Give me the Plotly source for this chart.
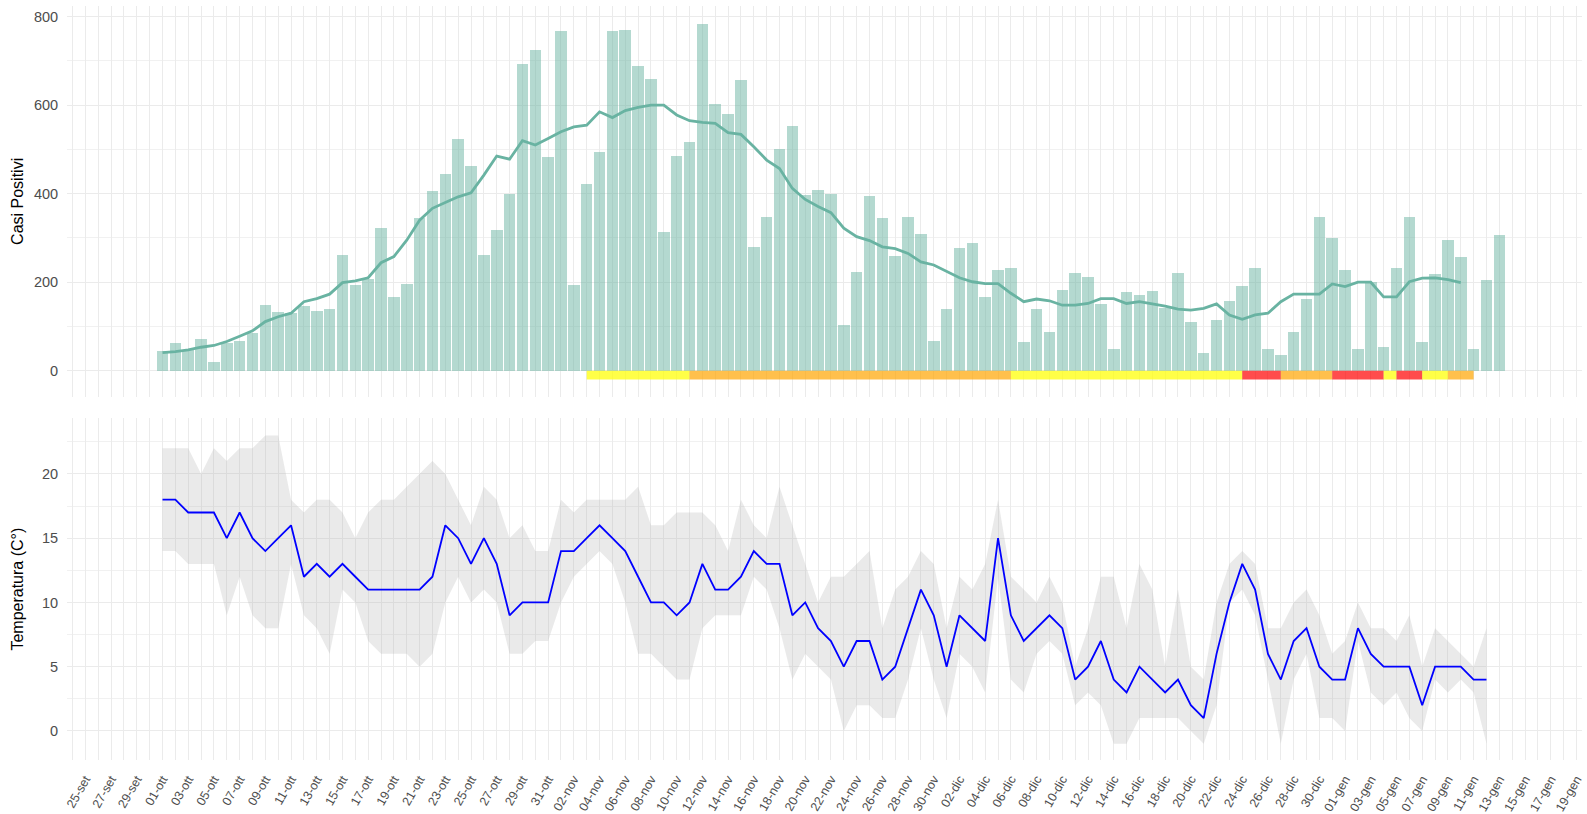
import pandas as pd
import plotly.graph_objects as go

# ---------------- data ----------------
cases = [
    # ottobre 01..31
    45, 62, 47, 72, 19, 62, 67, 86, 148, 132, 130, 146, 135, 140, 262, 194, 207, 323, 167, 196,
    346, 407, 445, 524, 463, 262, 318, 400, 694, 725, 482,
    # novembre 01..30
    768, 194, 421, 495, 768, 771, 688, 659, 313, 485, 516, 783, 603, 580, 656, 280, 347, 500, 554, 397,
    408, 400, 103, 223, 395, 344, 260, 347, 310, 67,
    # dicembre 01..31
    140, 278, 288, 167, 227, 233, 64, 140, 87, 182, 220, 212, 151, 48, 177, 170, 180, 141, 220, 111,
    40, 114, 157, 191, 233, 50, 35, 87, 162, 347, 299,
    # gennaio 01..13
    227, 50, 201, 53, 233, 347, 64, 218, 295, 257, 48, 204, 307,
]
moving_avg = [
    41, 43, 47, 53, 57, 66, 78, 90, 111, 122, 130, 156, 163, 173, 199, 203, 210, 244, 258, 295,
    340, 367, 380, 393, 402, 442, 485, 478, 520, 510, 525,
    540, 551, 555, 585, 572, 588, 595, 600, 600, 578, 565, 561, 559, 538, 534, 506, 476, 457, 412, 387,
    371, 357, 322, 303, 294, 280, 276, 265, 246, 239,
    225, 210, 201, 197, 197, 175, 156, 162, 158, 148, 148, 152, 163, 163, 152, 156, 151, 146, 139, 137,
    141, 151, 126, 116, 126, 130, 156, 173, 173, 173, 196,
    190, 200, 200, 167, 167, 201, 209, 210, 206, 199,
]
t_mean = [
    18, 18, 17, 17, 17, 15, 17, 15, 14, 15, 16, 12, 13, 12, 13, 12, 11, 11, 11, 11, 11, 12, 16, 15, 13, 15, 13, 9, 10, 10, 10,
    14, 14, 15, 16, 15, 14, 12, 10, 10, 9, 10, 13, 11, 11, 12, 14, 13, 13, 9, 10, 8, 7, 5, 7, 7, 4, 5, 8, 11, 9,
    5, 9, 8, 7, 15, 9, 7, 8, 9, 8, 4, 5, 7, 4, 3, 5, 4, 3, 4, 2, 1, 6, 10, 13, 11, 6, 4, 7, 8, 5, 4,
    4, 8, 6, 5, 5, 5, 2, 5, 5, 5, 4, 4,
]
t_max = [
    22, 22, 22, 20, 22, 21, 22, 22, 23, 23, 18, 17, 18, 18, 17, 15, 17, 18, 18, 19, 20, 21, 20, 18, 16, 19, 18, 15, 16, 14, 14,
    18, 17, 18, 18, 18, 18, 19, 16, 16, 17, 17, 17, 16, 14, 18, 16, 15, 19, 16, 13, 10, 12, 12, 13, 14, 8, 11, 12, 14, 13,
    8, 12, 11, 13, 18, 12, 11, 10, 12, 10, 5, 8, 12, 12, 8, 13, 11, 5, 11, 5, 4, 10, 13, 14, 13, 8, 8, 10, 11, 9, 6,
    7, 10, 8, 8, 7, 9, 5, 8, 7, 6, 5, 8,
]
t_min = [
    14, 14, 13, 13, 13, 9, 12, 9, 8, 8, 13, 9, 8, 6, 11, 10, 7, 6, 6, 6, 5, 6, 10, 12, 10, 11, 10, 6, 6, 7, 7,
    10, 12, 13, 14, 13, 10, 6, 6, 5, 4, 4, 8, 9, 9, 9, 12, 11, 8, 4, 6, 5, 4, 0, 2, 2, 1, 1, 4, 8, 4,
    1, 6, 5, 3, 12, 4, 3, 6, 7, 6, 2, 3, 2, -1, -1, 1, 1, 1, 1, 0, -1, 2, 10, 11, 9, 4, -1, 4, 6, 1, 1,
    0, 7, 3, 2, 3, 1, 0, 4, 3, 4, 3, -1,
]
zone_start = ["2020-11-03", "2020-11-11", "2020-12-06", "2020-12-24", "2020-12-27", "2020-12-31",
              "2021-01-04", "2021-01-05", "2021-01-07", "2021-01-09"]
zone_end = ["2020-11-11", "2020-12-06", "2020-12-24", "2020-12-27", "2020-12-31", "2021-01-04",
            "2021-01-05", "2021-01-07", "2021-01-09", "2021-01-11"]
zone_kind = ["giallo", "arancione", "giallo", "rosso", "arancione", "rosso",
             "giallo", "rosso", "giallo", "arancione"]
zone_colors = {"giallo": "rgba(255,255,0,0.72)", "arancione": "rgba(255,165,0,0.70)",
               "rosso": "rgba(255,0,0,0.70)"}
month_it = {9: "set", 10: "ott", 11: "nov", 12: "dic", 1: "gen"}

d_cases = pd.date_range("2020-10-01", periods=len(cases), freq="D")
d_ma = pd.date_range("2020-10-01", periods=len(moving_avg), freq="D")
d_temp = pd.date_range("2020-10-01", periods=len(t_mean), freq="D")

tick_days = pd.date_range("2020-09-24", "2021-01-19", freq="D")
tick_text = [f"{d.day:02d}-{month_it[d.month]}" if ((d - pd.Timestamp('2020-09-25')).days % 2 == 0) else ""
             for d in tick_days]

FONT = "Liberation Sans, Arial, sans-serif"
GRID = "#EBEBEB"
DAY_MS = 86400000

fig = go.Figure()

# zone bands
for s, e, k in zip(zone_start, zone_end, zone_kind):
    fig.add_trace(go.Scatter(x=[s, e, e, s, s], y=[0, 0, -20, -20, 0], fill="toself",
                             fillcolor=zone_colors[k], line=dict(width=0), mode="lines",
                             hoverinfo="skip", showlegend=False, xaxis="x", yaxis="y"))

fig.add_trace(go.Bar(x=d_cases, y=cases, width=0.9 * DAY_MS,
                     marker=dict(color="rgba(105,179,162,0.5)", line=dict(width=0)),
                     showlegend=False, xaxis="x", yaxis="y"))
fig.add_trace(go.Scatter(x=d_ma, y=moving_avg, mode="lines",
                         line=dict(color="#69b3a2", width=2.8), showlegend=False,
                         xaxis="x", yaxis="y"))

# temperature
fig.add_trace(go.Scatter(x=d_temp, y=t_max, mode="lines", line=dict(width=0),
                         showlegend=False, hoverinfo="skip", xaxis="x2", yaxis="y2"))
fig.add_trace(go.Scatter(x=d_temp, y=t_min, mode="lines", line=dict(width=0), fill="tonexty",
                         fillcolor="rgba(170,170,170,0.25)", showlegend=False, hoverinfo="skip",
                         xaxis="x2", yaxis="y2"))
fig.add_trace(go.Scatter(x=d_temp, y=t_mean, mode="lines", line=dict(color="#0000FF", width=1.8),
                         showlegend=False, xaxis="x2", yaxis="y2"))

xrange = ["2020-09-23 13:40", "2021-01-19 10:20"]
common_x = dict(range=xrange, type="date", tickmode="array", tickvals=tick_days, ticktext=tick_text,
                showgrid=True, gridcolor=GRID, gridwidth=1, zeroline=False, showline=False,
                automargin=False)

fig.update_layout(
    width=1587, height=814,
    margin=dict(l=67, r=5, t=6, b=54),
    plot_bgcolor="white", paper_bgcolor="white",
    bargap=0,
    font=dict(family=FONT, color="#4D4D4D", size=12),
    xaxis=dict(**common_x, domain=[0, 1], anchor="y", showticklabels=False, matches="x2"),
    xaxis2=dict(**common_x, domain=[0, 1], anchor="y2", tickangle=-60,
                ticks="outside", ticklen=6, tickcolor="rgba(0,0,0,0)",
                tickfont=dict(size=12.5, color="#4D4D4D", family=FONT)),
    yaxis=dict(domain=[0.4818, 1], range=[-58.8, 824.2], tickmode="linear", tick0=0, dtick=200,
               showgrid=True, gridcolor=GRID, gridwidth=1, zeroline=False, automargin=False,
               ticks="outside", ticklen=5, tickcolor="rgba(0,0,0,0)",
               tickfont=dict(size=14.5, color="#4D4D4D", family=FONT),
               minor=dict(dtick=100, tick0=0, showgrid=True, gridcolor="#F1F1F1", gridwidth=0.8),
               title=dict(text="Casi Positivi", font=dict(size=16, color="black", family=FONT),
                          standoff=6)),
    yaxis2=dict(domain=[0, 0.4532], range=[-2.26, 24.33], tickmode="linear", tick0=0, dtick=5,
                showgrid=True, gridcolor=GRID, gridwidth=1, zeroline=False, automargin=False,
                ticks="outside", ticklen=5, tickcolor="rgba(0,0,0,0)",
                tickfont=dict(size=14.5, color="#4D4D4D", family=FONT),
                minor=dict(dtick=2.5, tick0=0, showgrid=True, gridcolor="#F1F1F1", gridwidth=0.8),
                title=dict(text="Temperatura (C°)", font=dict(size=16, color="black", family=FONT),
                           standoff=14)),
)

fig.write_html("out.html", config={"displayModeBar": False},
               post_script="document.body.style.margin='0';document.body.style.overflow='hidden';")
